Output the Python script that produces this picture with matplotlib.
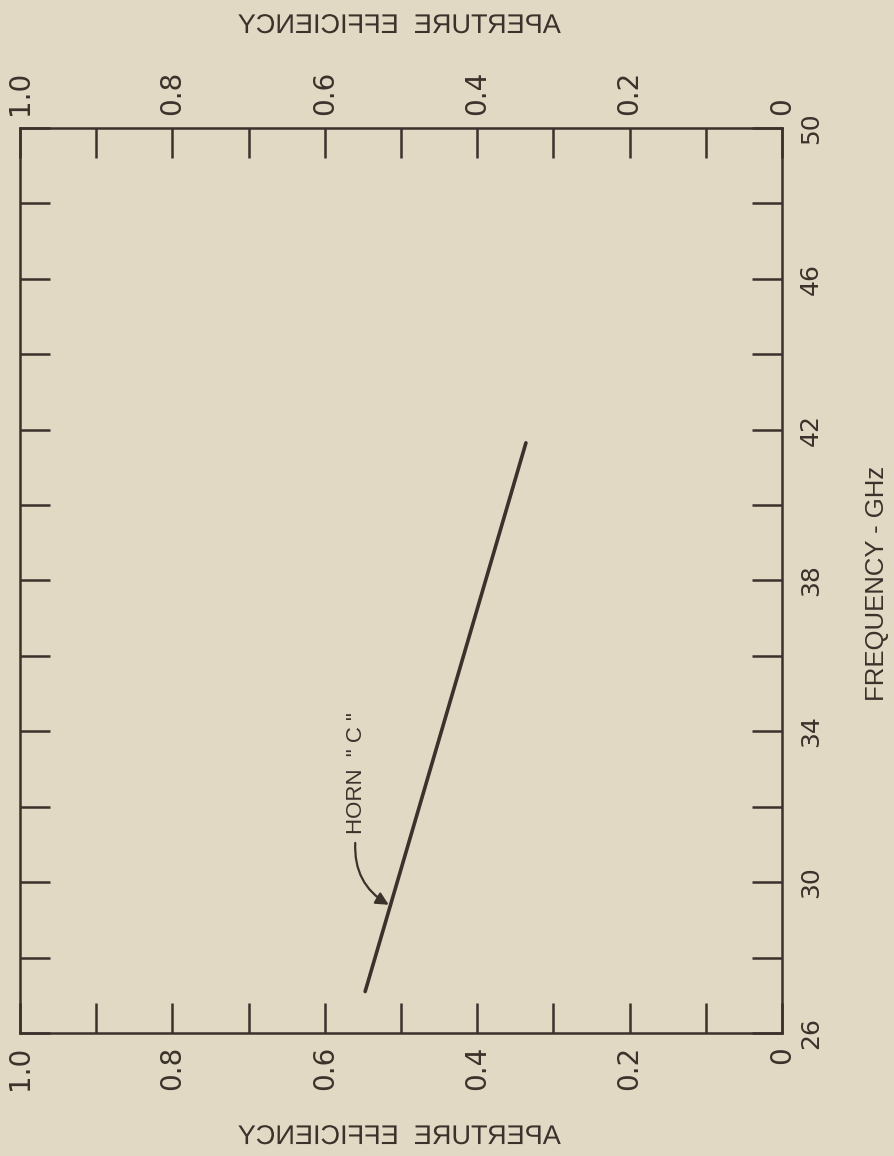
import numpy as np
import matplotlib
matplotlib.use('Agg')
import matplotlib.pyplot as plt
import matplotlib.patheffects as pe
from matplotlib.transforms import Affine2D

# ----- data (page is turned 90 deg)
freq = [27.1, 41.65]          # GHz
eff = [0.547, 0.336]          # aperture efficiency
eff_ticks = [0.0, 0.1, 0.2, 0.3, 0.4, 0.5, 0.6, 0.7, 0.8, 0.9, 1.0]
eff_labels = ['0', '', '0.2', '', '0.4', '', '0.6', '', '0.8', '', '1.0']
freq_ticks = [26, 28, 30, 32, 34, 36, 38, 40, 42, 44, 46, 48, 50]
freq_labels = ['26', '', '30', '', '34', '', '38', '', '42', '', '46', '', '50']
horn_at = (0.559, 32.88)
arrow_from = (0.560, 31.04)
arrow_to = (0.516, 29.40)

paper = '#e2d9c4'
ink = '#3a322b'
narrow = ['Liberation Sans Narrow', 'DejaVu Sans Condensed', 'DejaVu Sans']
plain = ['Liberation Sans', 'DejaVu Sans']


class Mirror(pe.AbstractPathEffect):
    # draws the glyphs flipped left-right, like the label on the scan
    def draw_path(self, renderer, gc, tpath, affine, rgbFace=None):
        ext = tpath.get_extents()
        flip = Affine2D().scale(-1, 1).translate(ext.x0 + ext.x1, 0)
        renderer.draw_path(gc, tpath, flip + affine, rgbFace)


fig = plt.figure(figsize=(8.95, 11.56), dpi=100, facecolor=paper)
ax = fig.add_axes([0.0223, 0.1064, 0.8514, 0.7829])
ax.set_facecolor(paper)

ax.plot(eff, freq, color=ink, lw=2.6, solid_capstyle='round')

ax.set_xlim(1.0, 0.0)
ax.set_ylim(26, 50)
for s in ax.spines.values():
    s.set_color(ink)
    s.set_linewidth(1.8)

ax.set_xticks(eff_ticks)
ax.set_xticklabels(eff_labels, family=narrow, fontsize=20, color=ink)
ax.tick_params(axis='x', direction='in', length=21.6, width=1.8, color=ink,
               top=True, bottom=True, labeltop=True, labelbottom=True,
               labelrotation=90, pad=9.5)

ax.set_yticks(freq_ticks)
ax.set_yticklabels(freq_labels, family=narrow, fontsize=18, color=ink)
ax.tick_params(axis='y', direction='in', length=21.6, width=1.8, color=ink,
               left=True, right=True, labelleft=False, labelright=True,
               labelrotation=90, pad=12)
for t in ax.yaxis.get_major_ticks():
    t.label2.set_verticalalignment('center')

# curve label and its arrow
ax.text(horn_at[0], horn_at[1], 'HORN  " C "', rotation=90, ha='center',
        va='center', fontsize=16, family=plain, color=ink)
ax.annotate('', xy=arrow_to, xytext=arrow_from,
            arrowprops=dict(arrowstyle='-|>', connectionstyle='arc3,rad=0.3',
                            color=ink, lw=1.6, mutation_scale=19,
                            shrinkA=0, shrinkB=0))

# axis titles
for yy in (0.9775, 0.0164):
    fig.text(0.447, yy, 'APERTURE  EFFICIENCY', ha='center', va='center',
             fontsize=19.5, family=plain, color=ink, path_effects=[Mirror()])
fig.text(0.98, 0.4957, 'FREQUENCY - GHz', rotation=90, ha='center',
         va='center', fontsize=18.5, family=plain, color=ink)

fig.savefig('out.png', dpi=100, facecolor=paper)
